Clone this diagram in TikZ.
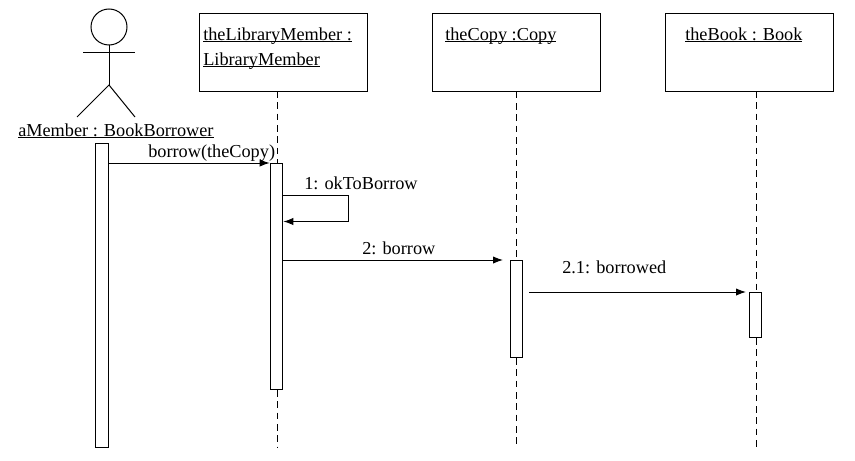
\documentclass[tikz,border=0pt]{standalone}
\usepackage{fontspec}
\setmainfont{Liberation Serif}
\usetikzlibrary{positioning,arrows.meta}

\newcommand{\ulbl}[1]{\setbox0=\hbox{#1}\rlap{\rule[-1.3pt]{\wd0}{0.75pt}}\box0}

\tikzset{
    objbox/.style={draw, line width=0.75pt, minimum width=126pt, minimum height=58pt, inner sep=0pt},
    actbar/.style={draw, fill=white, line width=0.75pt, minimum width=9.5pt, inner sep=0pt},
    lbl/.style={inner sep=0pt, anchor=base west, font=\fontsize{13.7pt}{16pt}\selectfont},
    msg/.style={line width=0.75pt, -{Latex[length=7.5pt,width=5.5pt]}},
    lifeline/.style={line width=0.75pt, dash pattern=on 5pt off 3.5pt},
    stick/.style={line width=0.75pt}
}

\begin{document}
\begin{tikzpicture}[x=0.75pt,y=-0.75pt]
    \useasboundingbox (0,0) rectangle (855,460);

    % Object boxes
    \node[objbox] (memberbox) at (283,52.5) {};
    \node[objbox] (copybox) at (516.5,52.5) {};
    \node[objbox] (bookbox) at (749,52.5) {};

    % Activation bars
    \node[actbar, minimum height=228pt] (actorbar) at (102,295) {};
    \node[actbar, minimum height=169.5pt] (memberbar) at (276.5,276.5) {};
    \node[actbar, minimum height=72.75pt] (copybar) at (516.5,309) {};
    \node[actbar, minimum height=33.75pt] (bookbar) at (755.5,315) {};

    % Free ends
    \coordinate (memberend) at (277,447);
    \coordinate (copyend) at (516.5,445);
    \coordinate (bookend) at (756.5,449);
    \coordinate (selfa) at (348,195.5);
    \coordinate (selfb) at (348,221.5);
    \coordinate (copyout) at (529,292.5);

    % Lifelines
    \draw[lifeline] (277,91) -- (277,163);
    \draw[lifeline] (memberbar.south -| memberend) -- (memberend);
    \draw[lifeline] (copybox.south) -- (copybar.north);
    \draw[lifeline] (copybar.south) -- (copyend);
    \draw[lifeline] (756.5,91) -- (bookbar.north -| bookend);
    \draw[lifeline] (bookbar.south -| bookend) -- (bookend);

    % Actor
    \node[draw, circle, line width=0.75pt, minimum size=27pt, inner sep=0pt] (head) at (109,27) {};
    \coordinate (hip) at (109,85);
    \draw[stick] (head.south) -- (hip);
    \draw[stick] (83,53) -- (135,53);
    \draw[stick] (77,117) -- (hip) -- (135,117);

    % Messages
    \draw[msg] (actorbar.east |- memberbar.north) -- (memberbar.north west);
    \draw[msg] (memberbar.east |- selfa) -- (selfa) -- (selfb) -- (memberbar.east |- selfb);
    \draw[msg, shorten >=5pt] (memberbar.east |- copybar.north) -- (copybar.north west);
    \draw[msg, shorten >=2pt] (copyout |- bookbar.north) -- (bookbar.north west);

    % Labels
    \node[lbl] (actorname) at (18,136.7) {\ulbl{aMember : BookBorrower}};
    \node[lbl] (membername) at (203,40.2) {\ulbl{theLibraryMember :}};
    \node[lbl] (memberclass) at (203,65.7) {\ulbl{LibraryMember}};
    \node[lbl] (copyname) at (445,40.2) {\ulbl{theCopy :Copy}};
    \node[lbl] (bookname) at (685,40.2) {\ulbl{theBook : Book}};
    \node[lbl] (borrowlbl) at (148,157.2) {borrow(theCopy)};
    \node[lbl] (oklbl) at (304,189.7) {1: okToBorrow};
    \node[lbl] (twolbl) at (362,254) {2: borrow};
    \node[lbl] (twoonelbl) at (562,273.2) {2.1: borrowed};
\end{tikzpicture}
\end{document}
